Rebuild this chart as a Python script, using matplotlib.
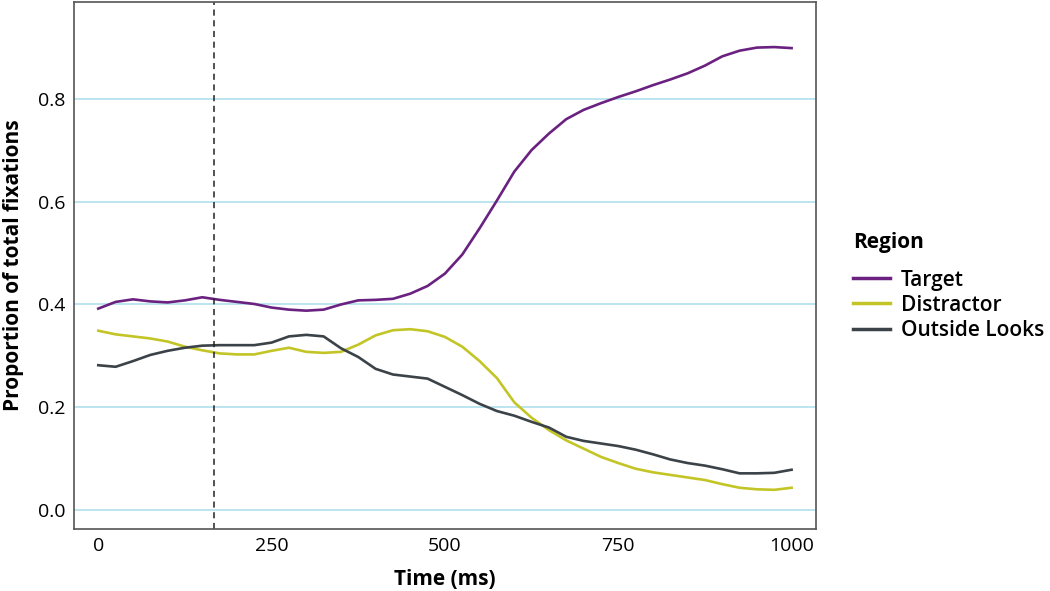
import matplotlib
matplotlib.use('Agg')
import matplotlib.pyplot as plt

plt.rcParams['font.family'] = ['Open Sans', 'DejaVu Sans']

# time points (ms)
time_ms = [0, 25, 50, 75, 100, 125, 150, 175, 200, 225, 250, 275, 300, 325, 350,
           375, 400, 425, 450, 475, 500, 525, 550, 575, 600, 625, 650, 675, 700,
           725, 750, 775, 800, 825, 850, 875, 900, 925, 950, 975, 1000]

target = [0.392, 0.405, 0.410, 0.406, 0.404, 0.408, 0.414, 0.409, 0.405, 0.401,
          0.394, 0.390, 0.388, 0.390, 0.400, 0.408, 0.409, 0.411, 0.421, 0.436,
          0.460, 0.497, 0.548, 0.602, 0.658, 0.700, 0.732, 0.760, 0.778, 0.791,
          0.803, 0.814, 0.826, 0.837, 0.849, 0.864, 0.882, 0.893, 0.899, 0.900,
          0.898]

distractor = [0.349, 0.342, 0.338, 0.334, 0.328, 0.318, 0.311, 0.305, 0.303, 0.303,
              0.310, 0.316, 0.308, 0.306, 0.308, 0.322, 0.340, 0.350, 0.352, 0.348,
              0.337, 0.318, 0.290, 0.257, 0.210, 0.180, 0.156, 0.136, 0.120, 0.104,
              0.092, 0.081, 0.074, 0.069, 0.064, 0.059, 0.051, 0.044, 0.041, 0.040,
              0.044]

outside = [0.282, 0.279, 0.290, 0.302, 0.310, 0.316, 0.320, 0.321, 0.321, 0.321,
           0.326, 0.338, 0.341, 0.338, 0.315, 0.298, 0.275, 0.264, 0.260, 0.256,
           0.240, 0.224, 0.207, 0.193, 0.184, 0.172, 0.161, 0.143, 0.135, 0.130,
           0.125, 0.118, 0.109, 0.099, 0.092, 0.087, 0.080, 0.072, 0.072, 0.073,
           0.079]

onset_ms = 167
x_ticks = [0, 250, 500, 750, 1000]
y_ticks = [0.0, 0.2, 0.4, 0.6, 0.8]

fig = plt.figure(figsize=(10.5, 5.91), dpi=100)
ax = fig.add_axes([0.0705, 0.105, 0.7065, 0.892])

for y in y_ticks:
    ax.axhline(y, color='#b0e0ec', lw=1.2, zorder=0)

ax.plot(time_ms, target, color='#6a2180', lw=1.9, label='Target')
ax.plot(time_ms, distractor, color='#c3c526', lw=1.9, label='Distractor')
ax.plot(time_ms, outside, color='#3c4348', lw=1.9, label='Outside Looks')
ax.axvline(onset_ms, color='#222222', lw=1.1, ls=(0, (4, 3)))

ax.set_xlim(-35, 1035)
ax.set_ylim(-0.036, 0.988)
ax.set_xticks(x_ticks)
ax.set_xticklabels([str(t) for t in x_ticks])
ax.set_yticks(y_ticks)
ax.set_yticklabels(['%.1f' % v for v in y_ticks])
ax.tick_params(length=0, labelsize=14, pad=6)
for lab in ax.get_xticklabels() + ax.get_yticklabels():
    lab.set_fontweight('medium')
for s in ax.spines.values():
    s.set_color('#555555')
    s.set_linewidth(1.2)

ax.set_xlabel('Time (ms)', fontsize=15, fontweight='bold', labelpad=10)
ax.set_ylabel('Proportion of total fixations', fontsize=15, fontweight='bold', labelpad=10)

leg = ax.legend(title='Region', loc='center left', bbox_to_anchor=(1.03, 0.46),
                frameon=False, prop={'size': 15, 'weight': 'semibold'},
                title_fontproperties={'weight': 'bold', 'size': 15},
                handlelength=1.8, handletextpad=0.5, labelspacing=0.2,
                borderaxespad=0.3)
leg._legend_box.align = 'left'
leg._legend_box.sep = 12
for line in leg.get_lines():
    line.set_linewidth(2.5)

fig.savefig('out.png', dpi=100)
